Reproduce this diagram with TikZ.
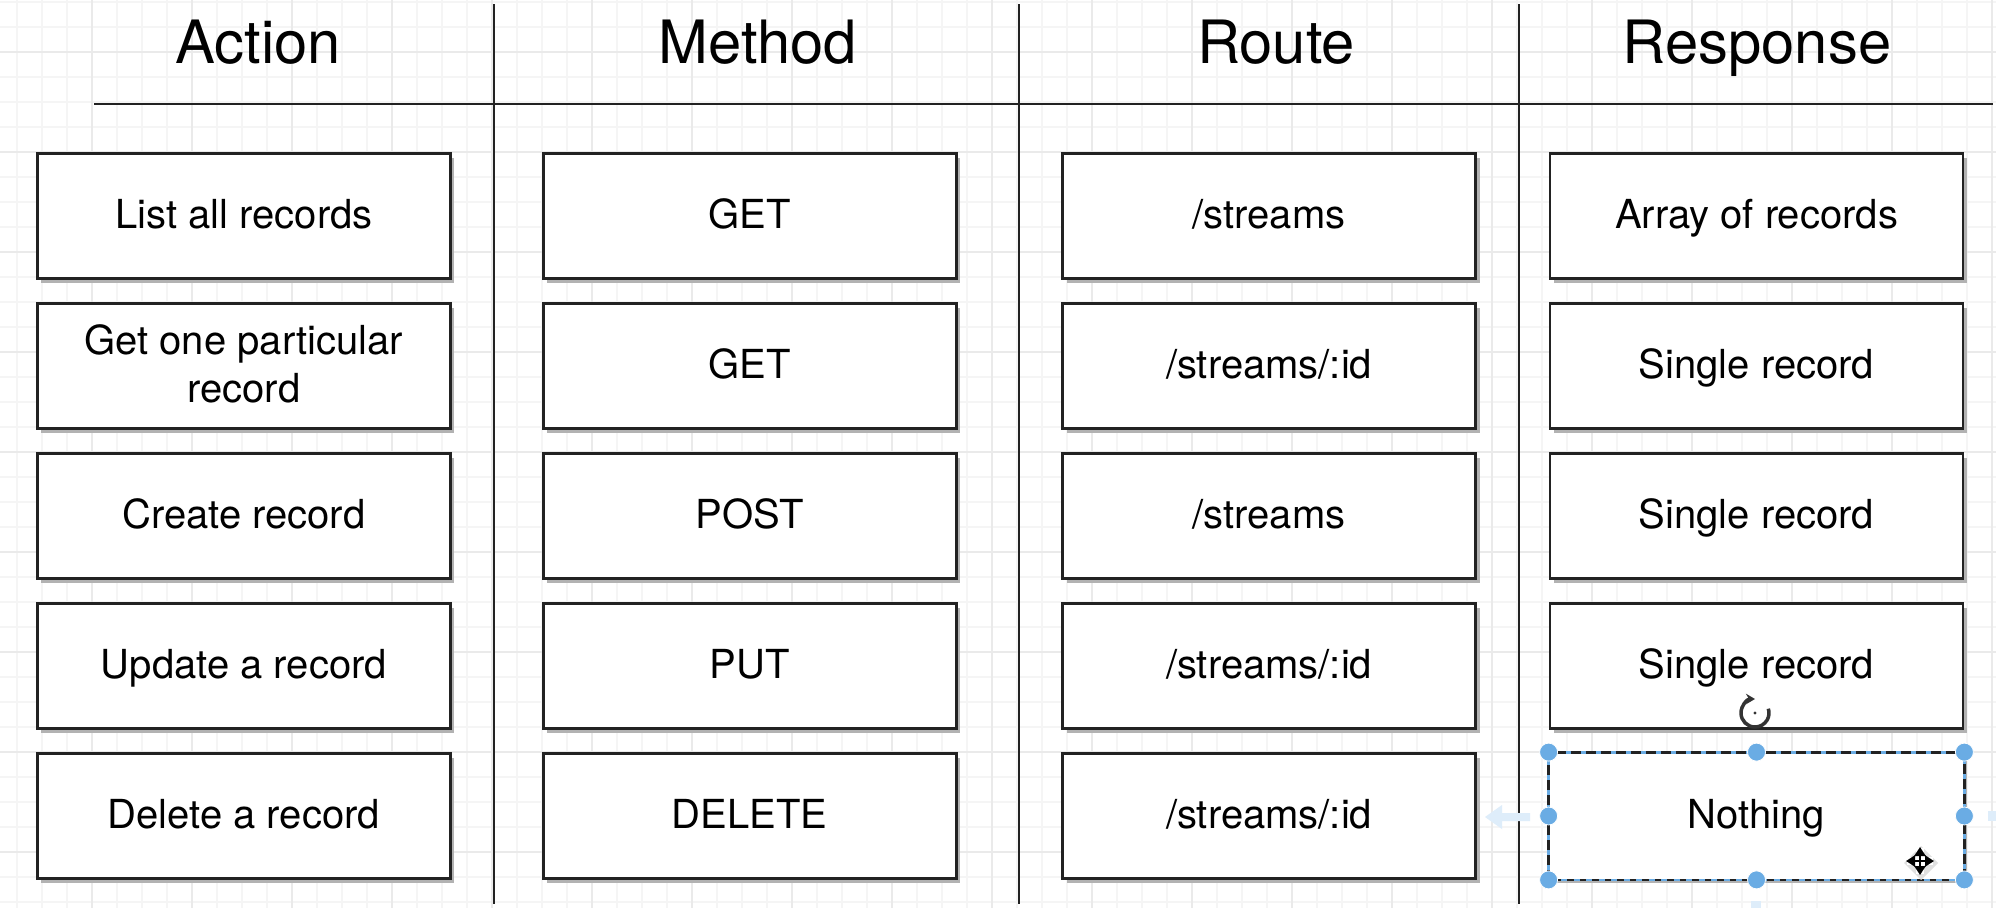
\documentclass[tikz,border=0pt]{standalone}
\usepackage{fontspec}
\setmainfont{TeX Gyre Heros}
\usetikzlibrary{shadows,arrows.meta}
\definecolor{gridminor}{RGB}{245,245,245}
\definecolor{gridmajor}{RGB}{234,234,234}
\definecolor{rulecol}{RGB}{34,34,34}
\definecolor{selblue}{RGB}{106,172,228}
\definecolor{hoverblue}{RGB}{222,237,250}
\newcommand{\bodyfont}{\fontsize{16pt}{19.2pt}\selectfont}
\newcommand{\headfont}{\fontsize{23.9pt}{28pt}\selectfont}
\begin{document}
\begin{tikzpicture}[x=0.4pt,y=0.4pt,
  cell/.style={draw=rulecol, line width=1.1pt, fill=white, minimum width=165.2pt,
    minimum height=50pt, inner sep=0pt, font=\bodyfont, text height=11.5pt, text depth=1.5pt,
    drop shadow={shadow xshift=1.6pt, shadow yshift=-1.6pt, fill=black!30, opacity=1}},
  celltext/.style={font=\bodyfont, align=center, inner sep=0pt},
  head/.style={font=\headfont, anchor=base, inner sep=0pt},
  tablerule/.style={draw=rulecol, line width=1.1pt},
  handle/.style={circle, fill=selblue, draw=white, line width=0.3pt, minimum size=7.2pt, inner sep=0pt}
]
\useasboundingbox (0,0) rectangle (1996,-908);
\fill[white] (0,0) rectangle (1996,-908);
\begin{scope}
  \clip (0,0) rectangle (1996,-908);
  \foreach \x in {17,42,...,1992} \draw[gridminor, line width=0.5pt] (\x,0) -- (\x,-908);
  \foreach \y in {2,27,...,902} \draw[gridminor, line width=0.5pt] (0,-\y) -- (1996,-\y);
  \foreach \x in {92,192,...,1992} \draw[gridmajor, line width=0.5pt] (\x,0) -- (\x,-908);
  \foreach \y in {52,152,...,852} \draw[gridmajor, line width=0.5pt] (0,-\y) -- (1996,-\y);
\end{scope}

% table rules
\coordinate (v1t) at (494,-4);  \coordinate (v1b) at (494,-904);
\coordinate (v2t) at (1019,-4); \coordinate (v2b) at (1019,-904);
\coordinate (v3t) at (1519,-4); \coordinate (v3b) at (1519,-904);
\coordinate (hl) at (94,-104);  \coordinate (hr) at (1993,-104);
\draw[tablerule] (v1t) -- (v1b);
\draw[tablerule] (v2t) -- (v2b);
\draw[tablerule] (v3t) -- (v3b);
\draw[tablerule] (hl) -- (hr);

% headers
\node[head] (hA) at (258,-63) {Action};
\node[head] (hM) at (758,-63) {Method};
\node[head] (hR) at (1276,-63) {Route};
\node[head] (hS) at (1757,-63) {Response};

% column 1
\node[cell] (a1) at (243.9,-216) {List all records};
\node[cell] (a2) at (243.9,-366) {};
\node[celltext] (a2t) at (243.9,-363.4) {Get one particular\\record};
\node[cell] (a3) at (243.9,-516) {Create record};
\node[cell] (a4) at (243.9,-666) {Update a record};
\node[cell] (a5) at (243.9,-816) {Delete a record};

% column 2
\node[cell] (b1) at (749.7,-216) {GET};
\node[cell] (b2) at (749.7,-366) {GET};
\node[cell] (b3) at (749.7,-516) {POST};
\node[cell] (b4) at (749.7,-666) {PUT};
\node[cell] (b5) at (749.7,-816) {DELETE};

% column 3
\node[cell] (c1) at (1269.1,-216) {/streams};
\node[cell] (c2) at (1269.1,-366) {/streams/:id};
\node[cell] (c3) at (1269.1,-516) {/streams};
\node[cell] (c4) at (1269.1,-666) {/streams/:id};
\node[cell] (c5) at (1269.1,-816) {/streams/:id};

% column 4
\node[cell] (d1) at (1756.5,-216) {Array of records};
\node[cell] (d2) at (1756.5,-366) {Single record};
\node[cell] (d3) at (1756.5,-516) {Single record};
\node[cell] (d4) at (1756.5,-666) {Single record};
\node[cell, draw=none] (d5) at (1756.5,-816) {Nothing};

% hover arrows (faint)
\fill[hoverblue] (1485,-817) -- (1502,-805) -- (1502,-813) -- (1530,-813) -- (1530,-821)
  -- (1502,-821) -- (1502,-829) -- cycle;
\fill[hoverblue] (1988,-811) rectangle (1996,-821);
\fill[hoverblue] (1751,-901) rectangle (1761,-908);

% selection frame
\draw[selblue, line width=1.1pt] (d5.south west) -- (d5.north west) -- (d5.north east) -- (d5.south east);
\draw[rulecol, line width=1.1pt, dash pattern=on 4pt off 2pt] (d5.south west) -- (d5.north west) -- (d5.north east) -- (d5.south east);
\draw[rulecol, line width=1.1pt] (d5.south west) -- (d5.south east);
\draw[selblue, line width=0.5pt, dash pattern=on 2.5pt off 2.5pt] (d5.south west) -- (d5.south east);
\foreach[count=\i] \a in {north west, north, north east, east, south east, south, south west, west}
  \node[handle] (h\i) at (d5.\a) {};

% rotate icon
\coordinate (rot) at (1755,-713);
\draw[black!80, line width=1.4pt, {Stealth[length=3.6pt,width=4.2pt]}-] ([shift={(90:14)}]rot) arc[start angle=90, end angle=378, radius=14];
\fill[black!80] (rot) circle (1.6);

% move icon
\coordinate (mv) at (1920,-861);
\fill[black!12] ([shift={(1,-2)}]mv) +(0,17) -- +(17,0) -- +(0,-17) -- +(-17,0) -- cycle;
\draw[white, line width=3pt] ([shift={(-13,0)}]mv) -- ([shift={(13,0)}]mv);
\draw[white, line width=3pt] ([shift={(0,-13)}]mv) -- ([shift={(0,13)}]mv);
\draw[black, line width=1pt, {Triangle[length=3.6pt,width=4.4pt]}-{Triangle[length=3.6pt,width=4.4pt]}] ([shift={(-14,0)}]mv) -- ([shift={(14,0)}]mv);
\draw[black, line width=1pt, {Triangle[length=3.6pt,width=4.4pt]}-{Triangle[length=3.6pt,width=4.4pt]}] ([shift={(0,-14)}]mv) -- ([shift={(0,14)}]mv);
\end{tikzpicture}
\end{document}
